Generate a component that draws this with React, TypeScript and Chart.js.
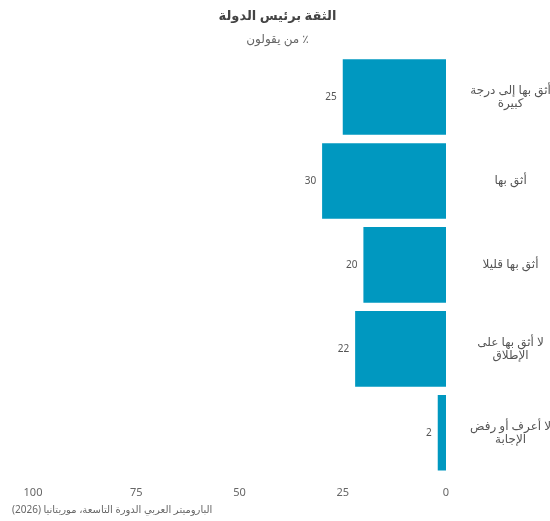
import React, { useEffect, useRef } from 'react';
import { Chart, registerables } from 'chart.js';

Chart.register(...registerables);

const TITLE = 'الثقة برئيس الدولة';
const SUBTITLE = '٪ من يقولون';
const SOURCE = 'الباروميتر العربي الدورة التاسعة، موريتانيا (2026)';

const categories: string[][] = [
  ['أثق بها إلى درجة', 'كبيرة'],
  ['أثق بها'],
  ['أثق بها قليلا'],
  ['لا أثق بها على', 'الإطلاق'],
  ['لا أعرف أو رفض', 'الإجابة'],
];
const values: number[] = [25, 30, 20, 22, 2];
const xTickValues: number[] = [0, 25, 50, 75, 100];

const FONT = '"Noto Sans", "DejaVu Sans", sans-serif';
const BAR_COLOR = '#0098c0';

const valueLabels = {
  id: 'valueLabels',
  afterDatasetsDraw(chart: any) {
    const ctx = chart.ctx;
    const meta = chart.getDatasetMeta(0);
    ctx.save();
    ctx.font = `10px ${FONT}`;
    ctx.fillStyle = '#555';
    ctx.textAlign = 'right';
    ctx.textBaseline = 'middle';
    meta.data.forEach((bar: any, i: number) => {
      ctx.fillText(String(values[i]), bar.x - 6, bar.y);
    });
    ctx.restore();
  },
};

const footer = {
  id: 'footer',
  afterDraw(chart: any) {
    const ctx = chart.ctx;
    ctx.save();
    ctx.font = `10px ${FONT}`;
    ctx.fillStyle = '#666';
    ctx.textAlign = 'left';
    ctx.textBaseline = 'middle';
    ctx.fillText(SOURCE, 12, chart.height - 11);
    ctx.restore();
  },
};

export default function App() {
  const ref = useRef<HTMLCanvasElement>(null);
  useEffect(() => {
    document.body.style.margin = '0';
    if (!ref.current) return;
    const chart = new Chart(ref.current, {
      type: 'bar',
      data: {
        labels: categories,
        datasets: [
          {
            data: values,
            backgroundColor: BAR_COLOR,
            borderWidth: 0,
            barPercentage: 0.9,
            categoryPercentage: 1,
          },
        ],
      },
      options: {
        indexAxis: 'y',
        animation: false,
        responsive: false,
        layout: { padding: { left: 5, right: 0, top: 0, bottom: 19 } },
        plugins: {
          legend: { display: false },
          tooltip: { enabled: false },
          title: {
            display: true,
            text: TITLE,
            color: '#444',
            font: { family: FONT, size: 13, weight: 'bold' },
            padding: { top: 8, bottom: 9 },
          },
          subtitle: {
            display: true,
            text: SUBTITLE,
            color: '#666',
            font: { family: FONT, size: 12 },
            padding: { top: 0, bottom: 8 },
          },
        },
        scales: {
          x: {
            type: 'linear',
            reverse: true,
            min: 0,
            max: 100,
            afterBuildTicks: (scale: any) => {
              scale.ticks = xTickValues.map((v) => ({ value: v }));
            },
            afterFit: (scale: any) => {
              scale.paddingLeft = 33;
            },
            grid: { display: false },
            border: { display: false },
            ticks: {
              color: '#666',
              font: { family: FONT, size: 11 },
              padding: 3,
              maxRotation: 0,
            },
          },
          y: {
            position: 'right',
            grid: { display: false },
            border: { display: false },
            afterFit: (scale: any) => {
              scale.width = 104;
            },
            ticks: {
              color: '#555',
              crossAlign: 'center',
              padding: 16,
              font: { family: FONT, size: 12, lineHeight: 1.1 },
            },
          },
        },
      },
      plugins: [valueLabels, footer],
    });
    return () => chart.destroy();
  }, []);
  return (
    <div style={{ width: 550, height: 521 }}>
      <canvas ref={ref} dir="rtl" width={550} height={521} style={{ display: 'block' }} />
    </div>
  );
}
